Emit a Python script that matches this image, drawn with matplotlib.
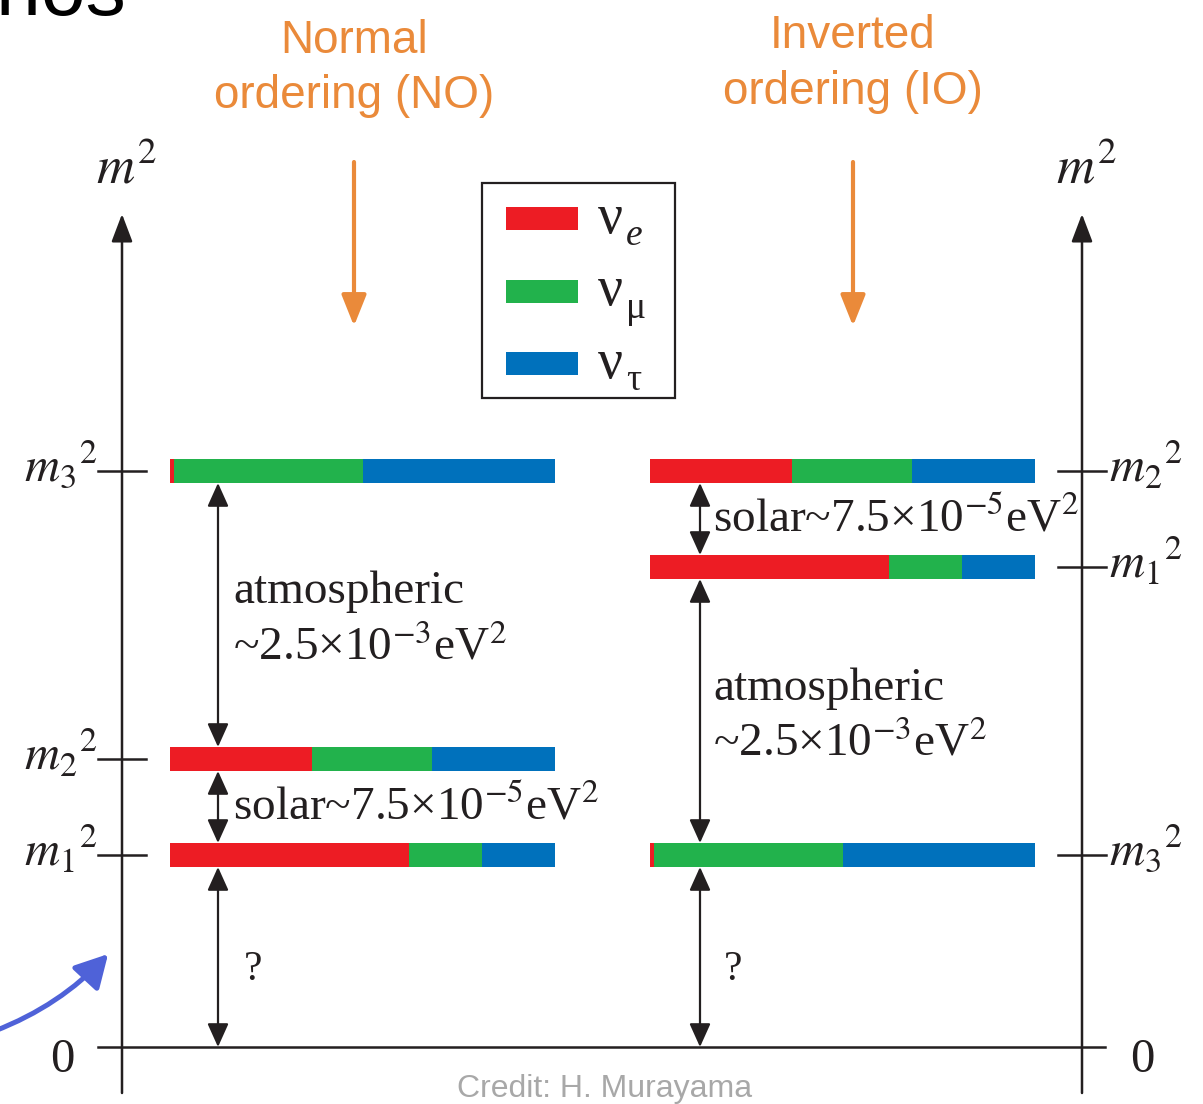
import matplotlib.pyplot as plt
from matplotlib.patches import Rectangle, FancyArrowPatch

plt.rcParams['mathtext.fontset'] = 'stix'
plt.rcParams['font.family'] = ['Liberation Serif', 'DejaVu Serif']

# schematic m^2 levels, in units of m1^2 (normal ordering)
levels_no = [1.0, 1.5, 3.0]   # m1^2, m2^2, m3^2
levels_io = [2.5, 3.0, 1.0]
state_idx = ['1', '2', '3']

# flavour content of each mass state
frac_e = [0.62, 0.37, 0.01]
frac_mu = [0.19, 0.31, 0.49]
frac_tau = [0.19, 0.32, 0.50]
flavour_colors = ['#ed1c24', '#22b24c', '#0071bc']
flavour_subs = ['e', 'μ', 'τ']

atm_text = '~2.5×10$^{-3}$eV$^{2}$'
sol_text = 'solar~7.5×10$^{-5}$eV$^{2}$'

INK = '#231f20'
ORANGE = '#ea8a3a'

# layout: x in pixels, y in m^2 units (0 at row Y0, UNIT px per unit)
W, H = 1203, 1104
Y0, UNIT = 1047, 192.0
BAR_LEN = 385
BAR_H = 24 / UNIT


def py(row):
    return (Y0 - row) / UNIT


fig = plt.figure(figsize=(W / 100, H / 100), dpi=100)
ax = fig.add_axes([0, 0, 1, 1])
ax.set_xlim(0, W)
ax.set_ylim(py(H), py(0))
ax.axis('off')


def arrow(x0, y0, x1, y1, style='-|>', color=INK, lw=1.6, ms=18, **kw):
    ax.annotate('', xy=(x1, y1), xytext=(x0, y0),
                arrowprops=dict(arrowstyle=style, color=color, lw=lw,
                                shrinkA=0, shrinkB=0, mutation_scale=ms, **kw))


def draw_levels(levels, x0):
    for i, lev in enumerate(levels):
        left = x0
        for frac, col in zip((frac_e[i], frac_mu[i], frac_tau[i]), flavour_colors):
            ax.barh(lev, frac * BAR_LEN, left=left, height=BAR_H,
                    color=col, linewidth=0)
            left += frac * BAR_LEN


draw_levels(levels_no, 170)
draw_levels(levels_io, 650)

# m^2 axes
for xa in (122, 1082):
    arrow(xa, py(1093), xa, py(214), style='-|>,head_length=0.95,head_width=0.36', lw=1.8)
ax.plot([98, 1105], [0, 0], color=INK, lw=1.8)

for i, lev in enumerate(levels_no):
    ax.plot([98, 146], [lev, lev], color=INK, lw=1.8)
    ax.text(97, lev - 10 / UNIT, r'$m_{%s}{}^{2}$' % state_idx[i],
            ha='right', va='baseline', fontsize=35, color=INK)
for i, lev in enumerate(levels_io):
    ax.plot([1058, 1106], [lev, lev], color=INK, lw=1.8)
    ax.text(1109, lev - 10 / UNIT, r'$m_{%s}{}^{2}$' % state_idx[i],
            ha='left', va='baseline', fontsize=35, color=INK)

ax.text(62, py(1072), '0', ha='center', va='baseline', fontsize=35, color=INK)
ax.text(1142, py(1072), '0', ha='center', va='baseline', fontsize=35, color=INK)
ax.text(96, py(183), r'$m^{2}$', ha='left', va='baseline', fontsize=38, color=INK)
ax.text(1056, py(183), r'$m^{2}$', ha='left', va='baseline', fontsize=38, color=INK)

# splittings
dbl = '<|-|>,head_length=0.8,head_width=0.36'
h2 = BAR_H / 2
arrow(218, levels_no[2] - h2, 218, levels_no[1] + h2, style=dbl)
arrow(218, levels_no[1] - h2, 218, levels_no[0] + h2, style=dbl)
arrow(218, levels_no[0] - h2, 218, 0, style=dbl)
arrow(700, levels_io[1] - h2, 700, levels_io[0] + h2, style=dbl)
arrow(700, levels_io[0] - h2, 700, levels_io[2] + h2, style=dbl)
arrow(700, levels_io[2] - h2, 700, 0, style=dbl)

ax.text(233, py(603), 'atmospheric', fontsize=34, color=INK, va='baseline')
ax.text(233, py(660), atm_text, fontsize=34, color=INK, va='baseline')
ax.text(233, py(820), sol_text, fontsize=34, color=INK, va='baseline')
ax.text(713, py(700), 'atmospheric', fontsize=34, color=INK, va='baseline')
ax.text(713, py(755), atm_text, fontsize=34, color=INK, va='baseline')
ax.text(713, py(532), sol_text, fontsize=34, color=INK, va='baseline')
ax.text(253, py(980), '?', fontsize=30, color=INK, ha='center', va='baseline')
ax.text(733, py(980), '?', fontsize=30, color=INK, ha='center', va='baseline')

# flavour key
ax.add_patch(Rectangle((482, py(398)), 193, py(183) - py(398),
                       fill=False, edgecolor=INK, lw=1.6))
for k, (col, sub) in enumerate(zip(flavour_colors, flavour_subs)):
    top = 207 + 72.5 * k
    ax.add_patch(Rectangle((506, py(top + 23)), 72, 23 / UNIT, color=col, lw=0))
    ax.text(598, py(top + 26), 'ν', fontsize=40, color=INK, va='baseline')
    ax.text(626, py(top + 38), sub, fontsize=27, color=INK, va='baseline',
            style='italic' if sub == 'e' else 'normal')

# orderings
sans = ['Liberation Sans', 'DejaVu Sans']
ax.text(354, py(53), 'Normal', ha='center', va='baseline', fontsize=33,
        color=ORANGE, family=sans)
ax.text(354, py(108), 'ordering (NO)', ha='center', va='baseline', fontsize=33,
        color=ORANGE, family=sans)
ax.text(853, py(48), 'Inverted', ha='center', va='baseline', fontsize=33,
        color=ORANGE, family=sans)
ax.text(853, py(104), 'ordering (IO)', ha='center', va='baseline', fontsize=33,
        color=ORANGE, family=sans)
for xa in (354, 853):
    arrow(xa, py(162), xa, py(326), style='-|>,head_length=1.05,head_width=0.42',
          color=ORANGE, lw=3.0)

ax.text(126, py(15), 'Neutrinos', ha='right', va='baseline', fontsize=58,
        color='black', family=sans)
ax.text(605, py(1097), 'Credit: H. Murayama', ha='center', va='baseline',
        fontsize=23, color='#a8a8a8', family=sans)

ax.add_patch(FancyArrowPatch((-8, py(1032)), (110, py(952)),
                             connectionstyle='arc3,rad=0.12',
                             arrowstyle='-|>,head_length=1.1,head_width=0.6',
                             mutation_scale=18, color='#4f62d8', lw=3.6))

fig.savefig('out.png', dpi=100)
